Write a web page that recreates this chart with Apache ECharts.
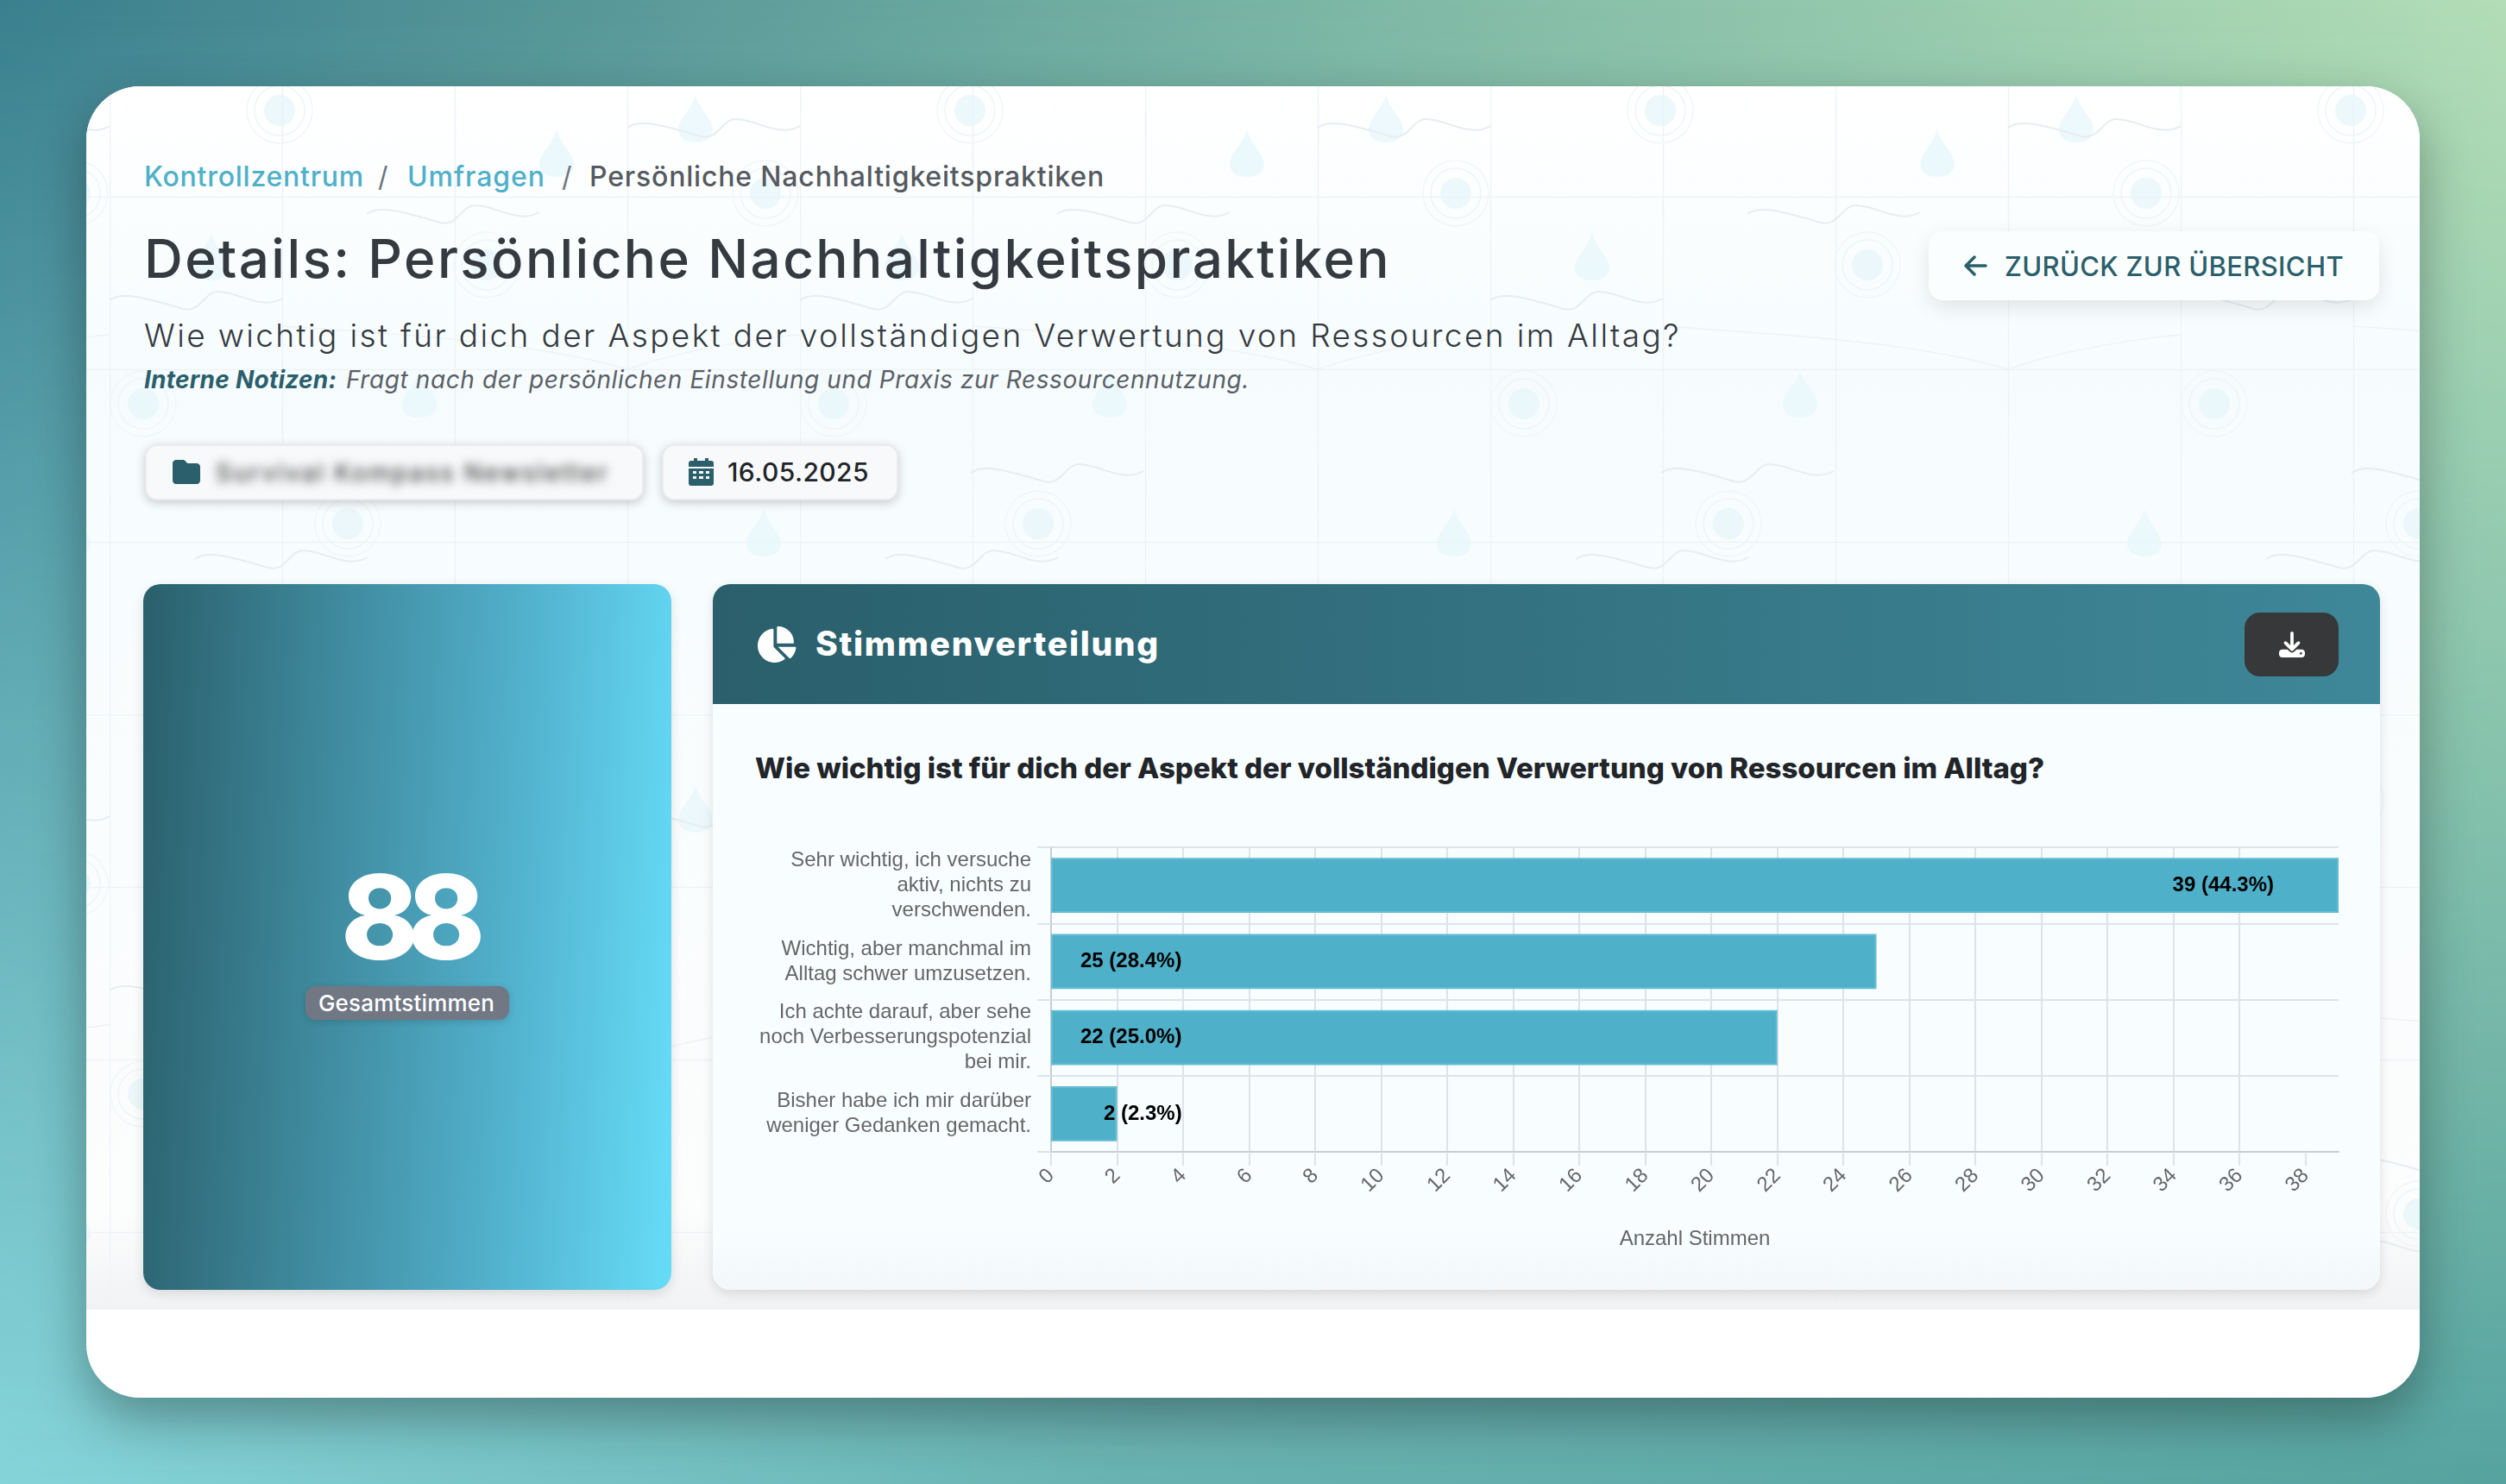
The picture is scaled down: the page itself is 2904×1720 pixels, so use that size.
<!DOCTYPE html>
<html lang="de">
<head>
<meta charset="utf-8">
<title>Details: Persönliche Nachhaltigkeitspraktiken</title>
<script src="https://cdn.jsdelivr.net/npm/echarts@6/dist/echarts.min.js"></script>
<style>
html, body { margin: 0; padding: 0; }
body {
    position: relative; width: 2904px; height: 1720px; overflow: hidden;
    font-family: Inter, "Noto Sans", sans-serif;
    background: linear-gradient(100deg, #3a7f8e 0%, #7fb9a6 50%, #bfe6ba 100%);
}
#bgBottom {
    position: absolute; inset: 0;
    background: linear-gradient(100deg, #8bdce2 0%, #69b2b2 50%, #55a3a0 100%);
    -webkit-mask-image: linear-gradient(to bottom, transparent 0%, #000 100%);
    mask-image: linear-gradient(to bottom, transparent 0%, #000 100%);
}
#sheet {
    position: absolute; left: 100px; top: 100px; width: 2704px; height: 1520px;
    background: #fff; border-radius: 62px; overflow: hidden;
}
#sheetShadow {
    position: absolute; left: 100px; top: 100px; width: 2704px; height: 1520px;
    border-radius: 62px; box-shadow: 0 24px 60px rgba(0,0,0,.32);
}
#wash {
    position: absolute; left: 0; top: 0; width: 2704px; height: 1418px;
    background: linear-gradient(180deg, #fff 0%, #f6fcfe 24%, #fafdfe 60%, #fcfdfd 92%, #f1f2f3 100%);
}
#pattern { position: absolute; left: 0; top: 0; }
.t { position: absolute; white-space: nowrap; line-height: 1; }
.link { color: #4fb0c9; }
.sep { color: #6c757d; }
.badge {
    position: absolute; box-sizing: border-box; background: #f8f9fa;
    border: 2px solid #e9ebed; border-radius: 14px;
    box-shadow: 0 3px 12px rgba(0,0,0,.2);
}
#stat {
    position: absolute; left: 66px; top: 577px; width: 612px; height: 818px; border-radius: 20px;
    background: linear-gradient(93deg, #2a5f6b 0%, #3f8a9e 35%, #50adc8 65%, #66dcf8 100%);
    box-shadow: 0 4px 14px rgba(0,0,0,.12);
}
#statPill {
    position: absolute; left: 254px; top: 1043px; width: 236px; height: 39px; border-radius: 12px;
    background: #717884; box-shadow: 0 2px 8px rgba(0,0,0,.15);
}
#panel {
    position: absolute; left: 726px; top: 577px; width: 1932px; height: 818px; border-radius: 20px;
    background: linear-gradient(180deg, #f8fdff 0%, #f8fdff 92%, #f3f7f9 100%);
    box-shadow: 0 4px 14px rgba(0,0,0,.12); overflow: hidden;
}
#panelHead {
    position: absolute; left: 0; top: 0; width: 1932px; height: 139px;
    background: linear-gradient(90deg, #2a5f6b 0%, #3e8799 100%);
}
#dlBtn {
    position: absolute; left: 1775px; top: 33px; width: 109px; height: 74px;
    border-radius: 18px; background: #363839;
}
#main { position: absolute; left: 0; top: 139px; width: 1932px; height: 679px; }
#backBtn {
    position: absolute; left: 2135px; top: 168px; width: 522px; height: 80px; border-radius: 16px;
    background: #fbfefe; box-shadow: 0 8px 24px rgba(0,0,0,.1);
}
svg.icon { position: absolute; }
</style>
</head>
<body>
<div id="bgBottom"></div>
<div id="sheetShadow"></div>
<div id="sheet">
    <div id="wash"></div>
    <svg id="pattern" width="2704" height="1418">
        <defs>
            <path id="drop" d="M0 -30C5 -12 20 -2 20 10C20 20 11 25 0 25C-11 25 -20 20 -20 10C-20 -2 -5 -12 0 -30Z" fill="#e6f6fa" fill-opacity=".75"/>
            <g id="ring" fill="none">
                <circle r="18" fill="#e6f6fa" fill-opacity=".7"/>
                <circle r="29" stroke="#edf5f7" stroke-width="1.5"/>
                <circle r="38" stroke="#f1f6f8" stroke-width="1.5"/>
            </g>
            <path id="wave" d="M0 10C15 -2 50 10 85 20C105 25 110 0 125 0C150 0 175 22 200 8" fill="none" stroke="#e7edf0" stroke-width="2"/>
            <pattern id="tile" patternUnits="userSpaceOnUse" x="27" y="-72" width="800" height="800">
                <path d="M0 .5H800M0 200.5H800M0 400.5H800M0 600.5H800M.5 0V800M200.5 0V800M400.5 0V800M600.5 0V800" stroke="#eef3f5" stroke-width="1.5" fill="none"/>
                <use href="#drop" x="679" y="112"/><use href="#drop" x="518" y="152"/>
                <use href="#drop" x="118" y="272"/><use href="#drop" x="359" y="431"/>
                <use href="#drop" x="758" y="592"/>
                <use href="#ring" x="197" y="100"/><use href="#ring" x="760" y="196"/>
                <use href="#ring" x="437" y="279"/><use href="#ring" x="39" y="440"/>
                <use href="#ring" x="276" y="579"/>
                <use href="#wave" x="600" y="110"/><use href="#wave" x="298" y="210"/>
                <use href="#wave" x="0" y="310"/><use href="#wave" x="198" y="510"/>
                <use href="#wave" x="99" y="610"/>
                <path d="M200 350C350 360 500 370 600 400C700 365 850 350 1000 350" fill="none" stroke="#eef2f4" stroke-width="1.5"/>
                <path d="M-600 400C-500 365 -350 350 -200 350" fill="none" stroke="#eef2f4" stroke-width="1.5"/>
            </pattern>
        </defs>
        <rect width="2704" height="1418" fill="url(#tile)"/>
    </svg>

    <span class="t link" data-w="255" style="left:67px;top:89px;font-size:32px;font-weight:500">Kontrollzentrum</span>
    <span class="t sep" style="left:338px;top:89px;font-size:32px">/</span>
    <span class="t link" data-w="160" style="left:372px;top:89px;font-size:32px;font-weight:500">Umfragen</span>
    <span class="t sep" style="left:551px;top:89px;font-size:32px">/</span>
    <span class="t" data-w="597" style="left:583px;top:89px;font-size:32px;font-weight:500;color:#555a60">Persönliche Nachhaltigkeitspraktiken</span>

    <span class="t" data-w="1445" style="left:67px;top:169px;font-size:62px;font-weight:500;color:#343a40">Details: Persönliche Nachhaltigkeitspraktiken</span>
    <span class="t" data-w="1781" style="left:67px;top:270px;font-size:37px;font-weight:300;color:#343a40">Wie wichtig ist für dich der Aspekt der vollständigen Verwertung von Ressourcen im Alltag?</span>
    <span class="t" data-w="223" style="left:67px;top:326px;font-size:28px;font-weight:700;font-style:italic;color:#2a5f6b">Interne Notizen:</span>
    <span class="t" data-w="1047" style="left:301px;top:326px;font-size:28px;font-style:italic;font-weight:400;color:#5a6066">Fragt nach der persönlichen Einstellung und Praxis zur Ressourcennutzung.</span>

    <div class="badge" style="left:68px;top:415px;width:578px;height:65px"></div>
    <svg class="icon" style="left:100px;top:431px" width="32" height="32" viewBox="0 0 512 512"><path fill="#2a5f6b" d="M64 480H448c35.3 0 64-28.7 64-64V160c0-35.3-28.7-64-64-64H288c-10.1 0-19.6-4.7-25.6-12.8L243.2 58.3C231.1 42.2 212.1 32 192 32H64C28.7 32 0 60.7 0 96V416c0 35.3 28.7 64 64 64z"/></svg>
    <span class="t" data-w="456" style="left:150px;top:434px;font-size:28px;font-weight:500;color:#444;filter:blur(6px)">Survival Kompass Newsletter</span>
    <div class="badge" style="left:667px;top:415px;width:274px;height:65px"></div>
    <svg class="icon" style="left:698px;top:431px" width="29" height="32" viewBox="0 0 29 32"><path fill="#2a5f6b" fill-rule="evenodd" d="M6 0h4v3h9V0h4v3h3a3 3 0 0 1 3 3v4H0V6a3 3 0 0 1 3-3h3zM0 12h29v17a3 3 0 0 1-3 3H3a3 3 0 0 1-3-3zM5 15v3h4v-3zM12 15v3h5v-3zM20 15v3h4v-3zM5 21v3h4v-3zM12 21v3h5v-3zM20 21v3h4v-3z"/></svg>
    <span class="t" data-w="164" style="left:743px;top:432px;font-size:30px;font-weight:500;color:#212529">16.05.2025</span>

    <div id="backBtn"></div>
    <svg class="icon" style="left:2175px;top:193px" width="28" height="30" viewBox="0 0 28 30"><path d="M26 15H3M13 5L3 15l10 10" fill="none" stroke="#2a5f6b" stroke-width="3.5" stroke-linecap="round" stroke-linejoin="round"/></svg>
    <span class="t" data-w="393" style="left:2223px;top:193px;font-size:31px;font-weight:500;color:#2a5f6b">ZURÜCK ZUR ÜBERSICHT</span>

    <div id="stat"></div>
    <span class="t" data-w="154" style="left:295px;top:895px;font-size:136px;font-weight:800;color:#fff">88</span>
    <div id="statPill"></div>
    <span class="t" data-w="204" style="left:269px;top:1050px;font-size:26px;font-weight:500;color:#fff">Gesamtstimmen</span>

    <div id="panel">
        <div id="panelHead"></div>
        <svg class="icon" style="left:49px;top:49px" width="48" height="42" viewBox="0 0 576 512"><path fill="#fff" d="M304 240V16.6c0-9 7-16.6 16-16.6C443.7 0 544 100.3 544 224c0 9-7.6 16-16.6 16H304zM32 272C32 150.7 122.1 50.3 239 34.3c9.2-1.3 17 6.1 17 15.4V288L412.5 444.5c6.7 6.7 6.2 17.7-1.5 23.1C371.8 495.6 323.8 512 272 512C139.5 512 32 404.6 32 272zm526.4 16c9.3 0 16.6 7.8 15.4 17c-7.7 55.9-34.6 105.6-73.9 142.3c-6 5.6-15.4 5.2-21.2-.7L320 288H558.4z"/></svg>
        <span class="t" data-w="399" style="left:119px;top:49px;font-size:39px;font-weight:800;color:#fff">Stimmenverteilung</span>
        <div id="dlBtn"></div>
        <svg class="icon" style="left:1815px;top:55px" width="30" height="30" viewBox="0 0 512 512"><path fill="#fff" d="M288 32c0-17.7-14.3-32-32-32s-32 14.3-32 32V274.7l-73.4-73.4c-12.5-12.5-32.8-12.5-45.3 0s-12.5 32.8 0 45.3l128 128c12.5 12.5 32.8 12.5 45.3 0l128-128c12.5-12.5 12.5-32.8 0-45.3s-32.8-12.5-45.3 0L288 274.7V32zM64 352c-35.3 0-64 28.7-64 64v32c0 35.3 28.7 64 64 64H448c35.3 0 64-28.7 64-64V416c0-35.3-28.7-64-64-64H346.5l-45.3 45.3c-25 25-65.5 25-90.5 0L165.5 352H64zm368 56a24 24 0 1 1 0 48 24 24 0 1 1 0-48z"/></svg>
        <span class="t" data-w="1494" style="left:49px;top:197px;font-size:33px;font-weight:800;color:#212529">Wie wichtig ist für dich der Aspekt der vollständigen Verwertung von Ressourcen im Alltag?</span>
        <div id="main"></div>
    </div>
</div>

<script>
var categories = [
    'Sehr wichtig, ich versuche\naktiv, nichts zu\nverschwenden.',
    'Wichtig, aber manchmal im\nAlltag schwer umzusetzen.',
    'Ich achte darauf, aber sehe\nnoch Verbesserungspotenzial\nbei mir.',
    'Bisher habe ich mir darüber\nweniger Gedanken gemacht.'
];
var votes = [39, 25, 22, 2];
var totalVotes = 88;
var xTicks = [0, 2, 4, 6, 8, 10, 12, 14, 16, 18, 20, 22, 24, 26, 28, 30, 32, 34, 36, 38];

window.addEventListener('load', function () {
    // Poppins is not installed, so stretch the stand-in font to the widths of the original
    document.querySelectorAll('[data-w]').forEach(function (el) {
        var diff = Number(el.dataset.w) - el.getBoundingClientRect().width;
        el.style.letterSpacing = (diff / el.textContent.length) + 'px';
    });

    function barLabel(v) {
        if (v > 30) return { position: 'insideRight', distance: 75 };
        if (v < 5) return { position: 'insideLeft', distance: 61 };
        return { position: 'insideLeft', distance: 34 };
    }

    var gridLine = '#dfe2e6';
    var axisLine = '#c9ccd1';
    var font = '"Liberation Sans", Arial, sans-serif';

    var chart = echarts.init(document.getElementById('main'));
    chart.setOption({
        animation: false,
        textStyle: { fontFamily: font },
        grid: { left: 392, right: 48, top: 166, bottom: 160 },
        xAxis: {
            type: 'value',
            min: 0,
            max: 39,
            interval: 2,
            name: 'Anzahl Stimmen',
            nameLocation: 'middle',
            nameGap: 89,
            nameTextStyle: { color: '#666', fontSize: 24, fontFamily: font },
            axisLine: { show: true, lineStyle: { color: axisLine, width: 2 } },
            axisTick: { show: true, length: 16, customValues: xTicks, lineStyle: { color: gridLine, width: 2 } },
            axisLabel: { color: '#666', fontSize: 24, fontFamily: font, rotate: 45, margin: 24, customValues: xTicks },
            splitLine: { show: true, showMaxLine: false, lineStyle: { color: gridLine, width: 2 } }
        },
        yAxis: {
            type: 'category',
            inverse: true,
            data: categories,
            axisLine: { show: true, lineStyle: { color: axisLine, width: 2 } },
            axisTick: { show: true, length: 16, lineStyle: { color: gridLine, width: 2 } },
            axisLabel: { color: '#666', fontSize: 24, fontFamily: font, lineHeight: 29, margin: 23, align: 'right' },
            splitLine: { show: true, lineStyle: { color: gridLine, width: 2 } }
        },
        series: [{
            type: 'bar',
            barWidth: '72%',
            itemStyle: { color: '#4fb0c9', borderColor: '#62bcd3', borderWidth: 2 },
            label: {
                show: true,
                color: '#000',
                fontSize: 24,
                fontWeight: 'bold',
                fontFamily: font,
                formatter: function (p) {
                    return p.value + ' (' + (p.value / totalVotes * 100).toFixed(1) + '%)';
                }
            },
            data: votes.map(function (v) {
                return { value: v, label: barLabel(v) };
            })
        }]
    });
}, false);
</script>
</body>
</html>
